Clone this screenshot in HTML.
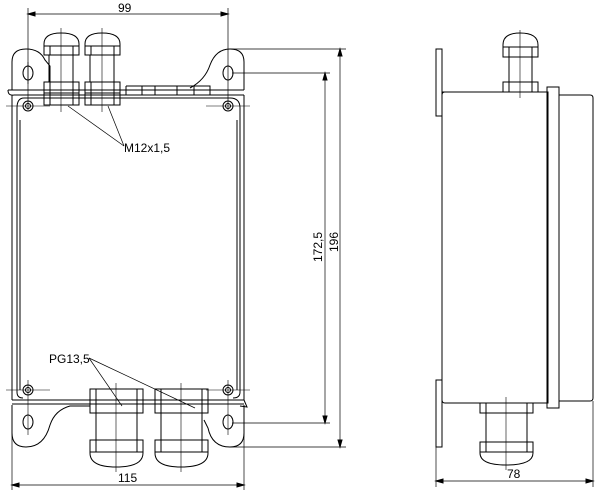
<!DOCTYPE html>
<html><head><style>body{margin:0;background:#fff}svg{display:block}text{font-family:"Liberation Sans",sans-serif;font-size:12px;fill:#000}</style></head><body>
<svg width="600" height="496" viewBox="0 0 600 496" xmlns="http://www.w3.org/2000/svg" fill="none" stroke="#000" stroke-width="1">
<!-- dimension 99 -->
<line x1="28" y1="8" x2="28" y2="110" stroke-width="0.7"/>
<line x1="228" y1="8" x2="228" y2="110" stroke-width="0.7"/>
<line x1="28" y1="14" x2="228" y2="14" stroke-width="0.7"/>
<path d="M28 14l7-2v4zM228 14l-7-2v4z" fill="#000"/>
<text x="118" y="12" stroke="none">99</text>
<!-- ears top -->
<path d="M12 90 V62 Q12 49 26 49 Q40 49 45 60 L50 66 V83"/>
<path d="M244 90 V62 Q244 49 230 49 Q216 49 210 65 Q205 80 190 88"/>
<ellipse cx="28" cy="73" rx="5" ry="7"/><ellipse cx="228" cy="73" rx="5" ry="7"/>
<!-- ears bottom -->
<path d="M12 405 V433 Q12 447 26 447 Q44 447 50 425 Q55 410 70 406 H90"/>
<path d="M244 405 V433 Q244 447 230 447 Q212 447 208 428 L204 420"/>
<ellipse cx="28" cy="422" rx="5" ry="7"/><ellipse cx="228" cy="422" rx="5" ry="7"/>
<!-- body -->
<line x1="8" y1="90" x2="244" y2="90"/><line x1="14" y1="95" x2="244" y2="95"/>
<path d="M8 90 Q8 96 14 95"/>
<line x1="12" y1="400" x2="244" y2="400"/><line x1="12" y1="404" x2="244" y2="404"/>
<path d="M12 95 V400"/><path d="M244 95 V400"/>
<path d="M17 120 V392 Q17 398 23 398 M233 398 Q240 398 240 392 V108 Q240 98 230 98 H24 Q17 98 17 108 V120"/>
<path d="M20 120 V390 M237 120 V390"/>
<path d="M244 400 L247 407 L240 406"/>
<!-- screws -->
<g><circle cx="28" cy="106" r="5"/><circle cx="28" cy="106" r="2.5"/>
<circle cx="228" cy="106" r="5"/><circle cx="228" cy="106" r="2.5"/>
<circle cx="28" cy="390" r="5"/><circle cx="28" cy="390" r="2.5"/>
<circle cx="228" cy="390" r="5"/><circle cx="228" cy="390" r="2.5"/></g>
<g stroke-width="0.6"><line x1="6" y1="106" x2="50" y2="106"/><line x1="206" y1="106" x2="250" y2="106"/>
<line x1="6" y1="390" x2="50" y2="390"/><line x1="206" y1="390" x2="250" y2="390"/>
<line x1="28" y1="380" x2="28" y2="435"/><line x1="228" y1="380" x2="228" y2="435"/>
<line x1="28" y1="62" x2="28" y2="84"/></g>
<!-- top hinge strip -->
<path d="M126 86 H210 V95 M126 86 V95 M142 86 V95 M155 86 V95 M177 86 V95 M194 86 V95"/>
<!-- top glands -->
<g id="tg">
<path d="M44 55 V44 Q44 33 61 33 Q79 33 79 44 V55 Z"/>
<line x1="44" y1="46" x2="79" y2="46"/><line x1="50" y1="46" x2="50" y2="55"/><line x1="73" y1="46" x2="73" y2="55"/>
<rect x="49" y="55" width="24" height="27"/>
<rect x="44" y="82" width="35" height="23"/><line x1="44" y1="93" x2="79" y2="93"/>
<line x1="50" y1="82" x2="50" y2="105"/><line x1="73" y1="82" x2="73" y2="105"/>
<line x1="61" y1="28" x2="61" y2="112" stroke-width="0.6"/>
</g>
<use href="#tg" x="41"/>
<!-- bottom glands -->
<g id="bg">
<rect x="90" y="389" width="53" height="24"/><line x1="90" y1="400" x2="143" y2="400"/>
<line x1="96" y1="389" x2="96" y2="413"/><line x1="137" y1="389" x2="137" y2="413"/>
<rect x="96" y="413" width="41" height="27"/>
<path d="M90 440 H143 V453 Q143 467 116 467 Q90 467 90 453 Z"/>
<line x1="90" y1="452" x2="143" y2="452"/><line x1="96" y1="440" x2="96" y2="452"/><line x1="137" y1="440" x2="137" y2="452"/>
<line x1="116" y1="383" x2="116" y2="472" stroke-width="0.6"/>
</g>
<use href="#bg" x="65"/>
<!-- leaders -->
<g stroke-width="0.7"><line x1="68" y1="106" x2="124" y2="146"/><line x1="108" y1="106" x2="124" y2="146"/>
<line x1="89" y1="358" x2="122" y2="406"/><line x1="89" y1="358" x2="195" y2="408"/></g>
<text x="124" y="152" stroke="none">M12x1,5</text>
<text x="49" y="363" stroke="none">PG13,5</text>
<!-- 115 -->
<line x1="12" y1="410" x2="12" y2="490" stroke-width="0.7"/><line x1="244" y1="410" x2="244" y2="490" stroke-width="0.7"/>
<line x1="12" y1="485" x2="244" y2="485" stroke-width="0.7"/>
<path d="M12 485l7-2v4zM244 485l-7-2v4z" fill="#000"/>
<text x="118" y="482" stroke="none">115</text>
<!-- vertical dims -->
<g stroke-width="0.7"><line x1="230" y1="49" x2="346" y2="49"/><line x1="232" y1="73" x2="330" y2="73"/>
<line x1="232" y1="423" x2="330" y2="423"/><line x1="230" y1="447" x2="346" y2="447"/>
<line x1="325" y1="73" x2="325" y2="423"/><line x1="340" y1="49" x2="340" y2="447"/></g>
<path d="M325 73l-2 7h4zM325 423l-2-7h4zM340 49l-2 7h4zM340 447l-2-7h4z" fill="#000"/>
<text transform="translate(322,262) rotate(-90)" stroke="none">172,5</text>
<text transform="translate(338,252) rotate(-90)" stroke="none">196</text>
<!-- side view -->
<rect x="436" y="49" width="6" height="67"/><rect x="436" y="380" width="6" height="67"/>
<path d="M442 92 H548 V403 H445 Q442 403 442 400 V95 Q442 92 445 92Z"/>
<rect x="547" y="87" width="12" height="321"/>
<path d="M559 95 H590 Q593 95 593 98 V398 Q593 401 590 401 H559"/>
<g>
<path d="M503 57 V45 Q503 33 520 33 Q538 33 538 45 V57 Z"/>
<line x1="503" y1="47" x2="538" y2="47"/><line x1="509" y1="47" x2="509" y2="57"/><line x1="532" y1="47" x2="532" y2="57"/>
<rect x="509" y="57" width="23" height="25"/>
<rect x="503" y="82" width="35" height="10"/><line x1="509" y1="82" x2="509" y2="92"/><line x1="532" y1="82" x2="532" y2="92"/>
<line x1="520" y1="30" x2="520" y2="98" stroke-width="0.6"/>
</g>
<g>
<rect x="480" y="403" width="53" height="10"/><line x1="486" y1="403" x2="486" y2="413"/><line x1="527" y1="403" x2="527" y2="413"/>
<rect x="486" y="413" width="41" height="29"/>
<path d="M480 442 H533 V453 Q533 465 506 465 Q480 465 480 453 Z"/>
<line x1="480" y1="452" x2="533" y2="452"/><line x1="486" y1="442" x2="486" y2="452"/><line x1="527" y1="442" x2="527" y2="452"/>
<line x1="506" y1="397" x2="506" y2="470" stroke-width="0.6"/>
</g>
<line x1="436" y1="447" x2="436" y2="487" stroke-width="0.7"/><line x1="593" y1="401" x2="593" y2="487" stroke-width="0.7"/>
<line x1="436" y1="481" x2="593" y2="481" stroke-width="0.7"/>
<path d="M436 481l7-2v4zM593 481l-7-2v4z" fill="#000"/>
<text x="507" y="478" stroke="none">78</text>
</svg>
</body></html>
